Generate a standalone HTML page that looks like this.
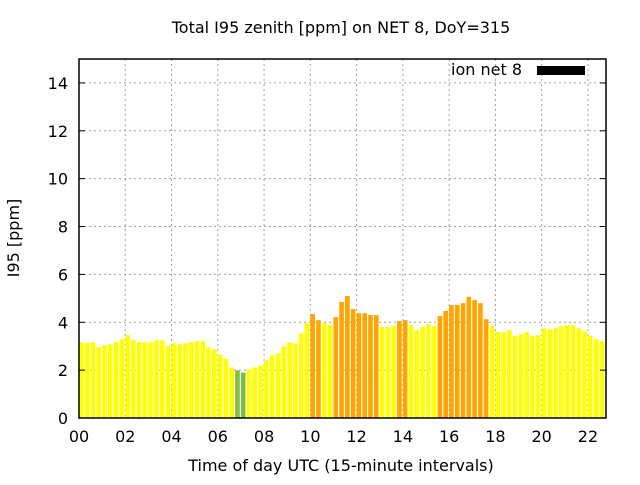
<!DOCTYPE html>
<html><head><meta charset="utf-8"><style>
body{margin:0;background:#fff}
text{font-family:"DejaVu Sans","Liberation Sans",sans-serif;fill:#000}
</style></head><body>
<svg id="chart" width="640" height="480" viewBox="0 0 640 480" xmlns="http://www.w3.org/2000/svg">
<rect width="640" height="480" fill="#fff"/>
<text x="341" y="33" text-anchor="middle" font-size="16">Total I95 zenith [ppm] on NET 8, DoY=315</text>
<text transform="translate(19,238) rotate(-90)" text-anchor="middle" font-size="16">I95 [ppm]</text>
<text x="341" y="471" text-anchor="middle" font-size="16">Time of day UTC (15-minute intervals)</text>
<g id="grid"></g><g id="bars"></g><g id="axes"></g>
<text x="522" y="75" text-anchor="end" font-size="16">ion net 8</text>
<rect x="537" y="66" width="48" height="9" fill="#000"/>
</svg>
<script>
const values=[3.17,3.14,3.17,2.96,3.04,3.08,3.17,3.29,3.46,3.25,3.17,3.17,3.17,3.25,3.25,3.0,3.12,3.08,3.12,3.17,3.21,3.21,2.96,2.87,2.65,2.48,2.11,1.99,1.90,2.03,2.11,2.20,2.41,2.62,2.70,3.0,3.17,3.12,3.54,3.96,4.34,4.09,3.96,3.88,4.22,4.85,5.10,4.55,4.38,4.38,4.30,4.30,3.80,3.80,3.84,4.05,4.09,3.88,3.67,3.80,3.92,3.84,4.26,4.47,4.72,4.72,4.80,5.06,4.93,4.80,4.13,3.84,3.59,3.59,3.67,3.42,3.50,3.59,3.42,3.46,3.75,3.71,3.75,3.84,3.88,3.88,3.75,3.63,3.42,3.29,3.21,3.12];
const yTicks=[0,2,4,6,8,10,12,14];
const xTickLabels=["00","02","04","06","08","10","12","14","16","18","20","22"];
const L=79,R=606,T=59,B=418,XMAX=22.78,YMAX=15;
const xs=h=>L+h/XMAX*(R-L);
const ys=v=>B-v/YMAX*(B-T);
const NS="http://www.w3.org/2000/svg";
function mk(tag,at,parent){const e=document.createElementNS(NS,tag);for(const k in at)e.setAttribute(k,at[k]);parent.appendChild(e);return e;}
const grid=document.getElementById('grid'),bars=document.getElementById('bars'),axes=document.getElementById('axes');
yTicks.forEach(v=>{
 if(v>0){const g=mk('line',{x1:L,x2:R,y1:ys(v),y2:ys(v),stroke:'#a0a0a0','stroke-dasharray':'2,3'},grid);
 
 }
 const t=mk('text',{x:L-11,y:ys(v)+6,'text-anchor':'end','font-size':16},axes);t.textContent=v;
 
 
 mk('line',{x1:L,x2:L+6,y1:ys(v),y2:ys(v),stroke:'#000'},axes);
 mk('line',{x1:R,x2:R-6,y1:ys(v),y2:ys(v),stroke:'#000'},axes);
});
xTickLabels.forEach((lab,i)=>{
 const h=i*2,x=xs(h);
 if(h>0){const g=mk('line',{x1:x,x2:x,y1:T,y2:B,stroke:'#a0a0a0','stroke-dasharray':'2,3'},grid);
 
 }
 const t=mk('text',{x:x,y:B+24,'text-anchor':'middle','font-size':16},axes);t.textContent=lab;
 
 
});
const step=0.25;
values.forEach((v,i)=>{
 const x0=xs(i*step),x1=Math.min(xs(i*step+0.2),R);
 if(x0>=R)return;
 const col=v<2?'#80c040':(v>=4?'#ffa500':'#ffff00');
 const b=mk('rect',{x:x0,y:ys(v),width:x1-x0,height:B-ys(v),fill:col},bars);
 
 
});
const f=mk('rect',{x:L,y:T,width:R-L,height:B-T,fill:'none',stroke:'#000','stroke-width':1.5},axes);


</script>
</body></html>
